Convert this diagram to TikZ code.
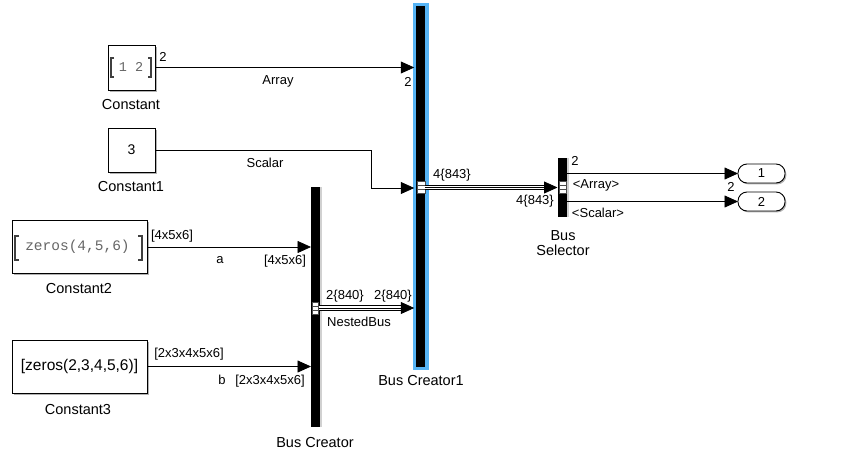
\documentclass[tikz,border=0pt]{standalone}
\usepackage{fontspec}
\setmainfont{Liberation Sans}
\newfontfamily\monofont{Liberation Mono}
\usepackage{tikz}
\usetikzlibrary{arrows.meta,positioning,shadows,calc}
\definecolor{hilite}{RGB}{86,180,245}
\tikzset{
  blk/.style    ={draw, line width=0.9pt, fill=white, inner sep=0pt,
                  outer sep=0pt,
                  general shadow={fill=black!30, shadow xshift=1.6pt,
                  shadow yshift=-1.6pt}},
  busbar/.style ={fill=black, inner sep=0pt, outer sep=0pt,
                  minimum width=9pt,
                  general shadow={fill=black!18, shadow xshift=2pt,
                  shadow yshift=0pt}},
  outp/.style   ={draw, line width=0.9pt, fill=white, inner sep=0pt,
                  outer sep=0pt, rounded corners=9pt,
                  minimum width=47pt, minimum height=19pt,
                  font=\fontsize{13}{15}\selectfont,
                  general shadow={fill=black!30, shadow xshift=1.4pt,
                  shadow yshift=-1.4pt}},
  portic/.style ={draw=black!70, fill=white, line width=0.4pt,
                  minimum width=6pt, minimum height=12pt, inner sep=0pt,
                  path picture={
                    \draw[black!70, line width=0.4pt]
                      ([yshift=2pt]path picture bounding box.west) --
                      ([yshift=2pt]path picture bounding box.east)
                      ([yshift=-2pt]path picture bounding box.west) --
                      ([yshift=-2pt]path picture bounding box.east);}},
  sig/.style    ={line width=0.8pt, -{Triangle[length=13.5pt,width=12pt]}},
  bus/.style    ={line width=5.4pt, draw=black,
                  postaction={draw=white, line width=3.4pt},
                  postaction={draw=black, line width=1pt}},
  tip/.style    ={line width=0.8pt, -{Triangle[length=13.5pt,width=12pt]}},
  sigl/.style   ={font=\fontsize{13}{15}\selectfont, inner sep=0pt},
  bname/.style  ={font=\fontsize{14.5}{17}\selectfont, inner sep=0pt},
  brk/.style    ={line width=1.1pt, black!75},
}

\begin{document}
\begin{tikzpicture}[x=1pt, y=-1pt]
  \useasboundingbox (0,0) rectangle (845,460);
  % ---- source blocks
  \node[blk, minimum width=47pt, minimum height=45pt] (cst)  at (131.5,67.5) {};
  \node[font=\monofont\fontsize{13.5}{15}\selectfont, text=black!60] (cstv) at (131,67) {1 2};
  \draw[brk] (114,58) -- (111,58) -- (111,77) -- (114,77);
  \draw[brk] (148,58) -- (151,58) -- (151,77) -- (148,77);
  \node[blk, minimum width=47pt, minimum height=44pt,
        font=\fontsize{14}{16}\selectfont] (cst1) at (131.5,150) {3};
  \node[blk, minimum width=135pt, minimum height=53pt] (cst2) at (79.5,247) {};
  \node[font=\monofont\fontsize{14.5}{16}\selectfont, text=black!60] (cst2v) at (77.5,247) {zeros(4,5,6)};
  \draw[brk] (19,236) -- (15,236) -- (15,260) -- (19,260);
  \draw[brk] (138,236) -- (142,236) -- (142,260) -- (138,260);
  \node[blk, minimum width=135pt, minimum height=53pt,
        font=\fontsize{15.5}{17}\selectfont] (cst3) at (79.5,366.5) {[zeros(2,3,4,5,6)]};
  \node[bname] (ncst)  at (131,105) {Constant};
  \node[bname] (ncst1) at (131,187) {Constant1};
  \node[bname] (ncst2) at (79,289) {Constant2};
  \node[bname] (ncst3) at (78,410) {Constant3};
  % ---- bus blocks
  \node[busbar, minimum height=240pt] (bc) at (315.5,307) {};
  \node[busbar, fill=black, draw=hilite, line width=3.5pt,
        minimum width=12.5pt, minimum height=363.5pt] (bc1) at (420.5,186.5) {};
  \node[busbar, minimum height=59pt] (bsel) at (562,187.5) {};
  \node[portic, minimum width=6pt] (pbc)  at (315.5,308) {};
  \node[portic, minimum width=8pt] (pbc1) at (421,187.5) {};
  \node[portic, minimum width=7pt] (pbs)  at (563,187.5) {};
  \node[bname] (nbc)  at (315,443) {Bus Creator};
  \node[bname] (nbc1) at (421,381) {Bus Creator1};
  \node[bname] (nbs1) at (563,236) {Bus};
  \node[bname] (nbs2) at (563,250) {Selector};
  % ---- outports
  \node[outp] (out1) at (761.5,173.5) {1};
  \node[outp] (out2) at (761.5,201.5) {2};
  % ---- signals
  \coordinate (sbend) at (371,188);
  \draw[sig] (cst.east) -- (cst.east -| bc1.west);
  \draw[sig] (cst1.east) -| (sbend) -- (sbend -| bc1.west);
  \draw[sig] (cst2.east) -- (cst2.east -| bc.west);
  \draw[sig] (cst3.east) -- (cst3.east -| bc.west);
  \draw[bus] (pbc.east) -- ($(pbc.east -| bc1.west)+(-11,0)$);
  \draw[tip] ($(pbc.east -| bc1.west)+(-12,0)$) -- (pbc.east -| bc1.west);
  \draw[bus] (pbc1.east) -- ($(pbc1.east -| bsel.west)+(-11,0)$);
  \draw[tip] ($(pbc1.east -| bsel.west)+(-12,0)$) -- (pbc1.east -| bsel.west);
  \draw[sig] (bsel.east |- out1.west) -- (out1.west);
  \draw[sig] (bsel.east |- out2.west) -- (out2.west);
  % ---- signal labels
  \node[sigl] (l1)  at (163,57)  {2};
  \node[sigl] (l2)  at (278,81)  {Array};
  \node[sigl] (l3)  at (408,82)  {2};
  \node[sigl] (l4)  at (265,163) {Scalar};
  \node[sigl] (l5)  at (172,236) {[4x5x6]};
  \node[sigl] (l6)  at (220,260) {a};
  \node[sigl] (l7)  at (285,261) {[4x5x6]};
  \node[sigl] (l8)  at (189,354) {[2x3x4x5x6]};
  \node[sigl] (l9)  at (222,380) {b};
  \node[sigl] (l10) at (270,381) {[2x3x4x5x6]};
  \node[sigl] (l11) at (345,296) {2\{840\}};
  \node[sigl] (l12) at (393,296) {2\{840\}};
  \node[sigl] (l13) at (359,322) {NestedBus};
  \node[sigl] (l14) at (452,175) {4\{843\}};
  \node[sigl] (l15) at (535,201) {4\{843\}};
  \node[sigl] (l16) at (575,161) {2};
  \node[sigl] (l17) at (596,185) {<Array>};
  \node[sigl] (l18) at (731,187) {2};
  \node[sigl] (l19) at (598,213) {<Scalar>};
\end{tikzpicture}
\end{document}
